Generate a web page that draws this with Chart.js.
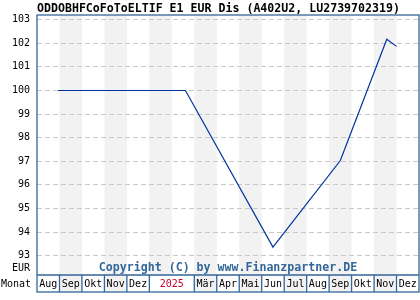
<!DOCTYPE html>
<html>
<head>
<meta charset="utf-8">
<script src="https://cdn.jsdelivr.net/npm/chart.js@4/dist/chart.umd.min.js"></script>
<style>
  html, body { margin: 0; padding: 0; background: #fff; }
  #c { display: block; }
</style>
</head>
<body>
<canvas id="c" width="420" height="300"></canvas>
<script>
const TITLE = "ODDOBHFCoFoToELTIF E1 EUR Dis (A402U2, LU2739702319)";
const DATES = ["2024-08-30", "2025-02-18", "2025-06-16", "2025-09-16", "2025-11-18", "2025-12-01"];
const VALUES = [100.0, 100.0, 93.36, 97.03, 102.17, 101.87];
const Y_TICKS = [93, 94, 95, 96, 97, 98, 99, 100, 101, 102, 103];
// Monatszellen (Start Aug 2024), Jan+Feb teilen sich die Jahreszelle
const CELL_LABELS = ["Aug", "Sep", "Okt", "Nov", "Dez", "2025", "Mär", "Apr", "Mai", "Jun", "Jul", "Aug", "Sep", "Okt", "Nov", "Dez"];
const CELL_SPANS = [1, 1, 1, 1, 1, 2, 1, 1, 1, 1, 1, 1, 1, 1, 1, 1];
const YEAR_LABELS = ["2025"];
const N_MONTHS = 17;

const FRAME = "#336699";
const BAND = "#f2f2f2";
const MONO = "'DejaVu Sans Mono', monospace";

// Datum -> Monatsposition ab 1. Aug 2024
function monthPos(s) {
  const [y, m, d] = s.split("-").map(Number);
  const days = new Date(y, m, 0).getDate();
  return (y - 2024) * 12 + (m - 1) - 7 + (d - 1) / days;
}

// Zellen mit Start / Mitte
const cells = [];
let acc = 0;
CELL_LABELS.forEach((label, i) => {
  cells.push({ label, start: acc, span: CELL_SPANS[i], mid: acc + CELL_SPANS[i] / 2 });
  acc += CELL_SPANS[i];
});

const ROW_BOTTOM = 292;

const decor = {
  id: "decor",
  beforeDraw(chart) {
    const { ctx, chartArea: a, scales: { x } } = chart;
    ctx.save();
    // graue Monatsbänder im Plot
    ctx.fillStyle = BAND;
    for (let i = 1; i < N_MONTHS; i += 2) {
      const x0 = x.getPixelForValue(i), x1 = x.getPixelForValue(i + 1);
      ctx.fillRect(x0, a.top, x1 - x0, a.bottom - a.top);
    }
    // graue Zellen in der Monatsleiste
    cells.forEach(c => {
      if (c.span === 1 && c.start % 2 === 1) {
        const x0 = x.getPixelForValue(c.start), x1 = x.getPixelForValue(c.start + 1);
        ctx.fillRect(x0, a.bottom, x1 - x0, ROW_BOTTOM - a.bottom);
      }
    });
    ctx.restore();
  },
  afterDraw(chart) {
    const { ctx, chartArea: a, scales: { x } } = chart;
    ctx.save();
    ctx.strokeStyle = FRAME;
    ctx.lineWidth = 1.3;
    ctx.strokeRect(a.left, a.top, a.right - a.left, ROW_BOTTOM - a.top);
    ctx.beginPath();
    ctx.moveTo(a.left, a.bottom);
    ctx.lineTo(a.right, a.bottom);
    cells.forEach((c, i) => {
      if (i === 0) return;
      const px = x.getPixelForValue(c.start);
      ctx.moveTo(px, a.bottom);
      ctx.lineTo(px, ROW_BOTTOM);
    });
    ctx.stroke();

    ctx.textBaseline = "middle";
    ctx.fillStyle = "#000";
    ctx.font = "10px " + MONO;
    ctx.textAlign = "right";
    ctx.fillText("EUR", 30, 268);
    ctx.textAlign = "left";
    ctx.fillText("Monat", 1, 284);

    ctx.fillStyle = FRAME;
    ctx.font = "bold 11.6px " + MONO;
    ctx.textAlign = "center";
    ctx.fillText("Copyright (C) by www.Finanzpartner.DE", (a.left + a.right) / 2, 268);
    ctx.restore();
  },
};

new Chart(document.getElementById("c"), {
  type: "line",
  data: {
    datasets: [{
      data: DATES.map((d, i) => ({ x: monthPos(d), y: VALUES[i] })),
      borderColor: "#0033a0",
      borderWidth: 1.2,
      pointRadius: 0,
      tension: 0,
      fill: false,
    }],
  },
  options: {
    responsive: false,
    animation: false,
    devicePixelRatio: 1,
    layout: { padding: { left: 0, right: 1, top: 0, bottom: 0 } },
    plugins: {
      legend: { display: false },
      tooltip: { enabled: false },
      title: {
        display: true,
        text: TITLE,
        align: "start",
        fullSize: false,
        color: "#000",
        font: { family: MONO, size: 11.6, weight: "bold", lineHeight: 1.0 },
        padding: { top: 3.4, bottom: 0 },
      },
    },
    scales: {
      x: {
        type: "linear",
        min: 0,
        max: N_MONTHS,
        grid: { display: false, drawTicks: false },
        border: { display: false },
        afterBuildTicks: s => { s.ticks = cells.map(c => ({ value: c.mid })); },
        afterFit: s => { s.height = 25; },
        ticks: {
          autoSkip: false,
          maxRotation: 0,
          padding: 3,
          font: { family: MONO, size: 10 },
          color: c => YEAR_LABELS.includes(cells[c.index] && cells[c.index].label) ? "#cc0033" : "#000",
          callback: (v, i) => cells[i].label,
        },
      },
      y: {
        min: 92.18,
        max: 103.2,
        afterBuildTicks: s => { s.ticks = Y_TICKS.map(v => ({ value: v })); },
        afterFit: s => { s.width = 37; },
        grid: { color: "#c8c8c8", lineWidth: 1, drawTicks: false },
        border: { display: false, dash: [5, 3] },
        ticks: {
          padding: 7,
          color: "#000",
          font: { family: MONO, size: 10 },
        },
      },
    },
  },
  plugins: [decor],
});
</script>
</body>
</html>
